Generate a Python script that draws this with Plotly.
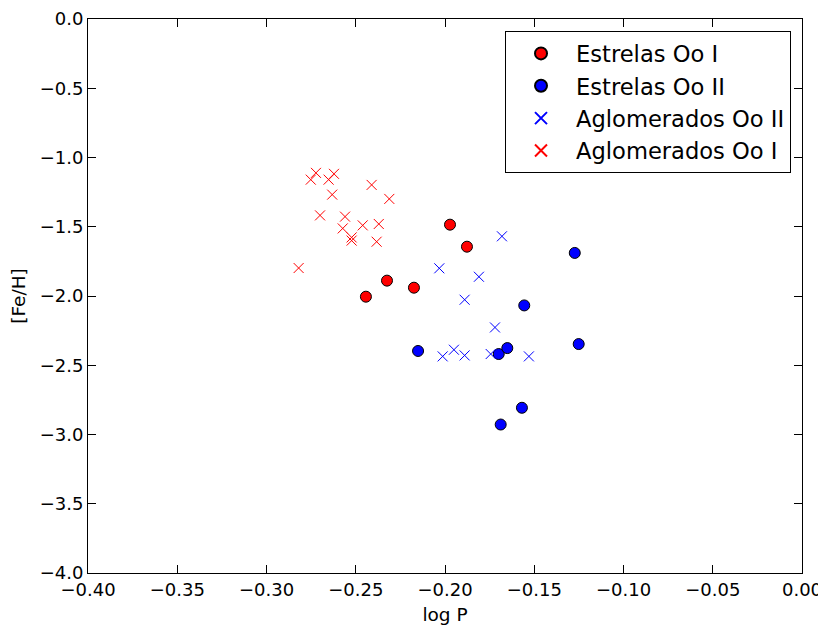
import plotly.graph_objects as go

# Estrelas Oo I (red circles)
ooI_star_logp = [-0.2443, -0.2325, -0.2174, -0.1972, -0.1877]
ooI_star_feh = [-2.005, -1.889, -1.94, -1.485, -1.644]

# Estrelas Oo II (blue circles)
ooII_star_logp = [-0.1273, -0.1556, -0.1251, -0.2151, -0.1699, -0.1651, -0.1569, -0.1688]
ooII_star_feh = [-1.689, -2.068, -2.347, -2.397, -2.419, -2.376, -2.807, -2.928]

# Aglomerados Oo II (blue x)
ooII_gc_logp = [-0.1681, -0.2032, -0.1810, -0.1890, -0.1720, -0.1950, -0.2013, -0.1890, -0.1744, -0.1530]
ooII_gc_feh = [-1.569, -1.800, -1.861, -2.027, -2.227, -2.388, -2.436, -2.429, -2.419, -2.436]

# Aglomerados Oo I (red x)
ooI_gc_logp = [-0.2723, -0.2622, -0.2752, -0.2652, -0.2632, -0.2411, -0.2312, -0.2700,
               -0.2560, -0.2573, -0.2461, -0.2371, -0.2523, -0.2523, -0.2383, -0.2820]
ooI_gc_feh = [-1.111, -1.118, -1.160, -1.160, -1.268, -1.198, -1.299, -1.418,
              -1.427, -1.512, -1.490, -1.480, -1.577, -1.600, -1.608, -1.798]

x_ticks = [-0.40, -0.35, -0.30, -0.25, -0.20, -0.15, -0.10, -0.05, 0.00]
y_ticks = [0.0, -0.5, -1.0, -1.5, -2.0, -2.5, -3.0, -3.5, -4.0]

def fmt(v, d):
    s = f"{abs(v):.{d}f}"
    return ("\u2212" + s) if v < 0 else s

fig = go.Figure()
fig.add_trace(go.Scatter(x=ooI_star_logp, y=ooI_star_feh, mode="markers", name="Estrelas Oo I",
                         marker=dict(symbol="circle", size=11, color="red", line=dict(color="black", width=1))))
fig.add_trace(go.Scatter(x=ooII_star_logp, y=ooII_star_feh, mode="markers", name="Estrelas Oo II",
                         marker=dict(symbol="circle", size=11, color="blue", line=dict(color="black", width=1))))
fig.add_trace(go.Scatter(x=ooII_gc_logp, y=ooII_gc_feh, mode="markers", name="Aglomerados Oo II",
                         marker=dict(symbol="x-thin", size=10, color="blue", line=dict(color="blue", width=1))))
fig.add_trace(go.Scatter(x=ooI_gc_logp, y=ooI_gc_feh, mode="markers", name="Aglomerados Oo I",
                         marker=dict(symbol="x-thin", size=10, color="red", line=dict(color="red", width=1))))

axis_common = dict(showline=True, linecolor="black", linewidth=1, mirror="ticks",
                   ticks="inside", ticklen=8, tickcolor="black", showgrid=False, zeroline=False,
                   automargin=False,
                   tickfont=dict(family="DejaVu Sans", size=18, color="black"))

# page body has an 8px margin, so the figure is shrunk by 8px and margins reduced accordingly
fig.update_layout(
    width=818, height=617,
    margin=dict(l=80, r=24, t=11, b=52),
    plot_bgcolor="white", paper_bgcolor="white",
    font=dict(family="DejaVu Sans", color="black"),
    showlegend=True,
    legend=dict(x=0.9846, y=0.978, xanchor="right", yanchor="top",
                bordercolor="black", borderwidth=1, bgcolor="white",
                font=dict(family="DejaVu Sans", size=22.6, color="black"),
                itemwidth=60, itemsizing="constant", tracegroupgap=0),
    xaxis=dict(range=[-0.40, 0.00], tickvals=x_ticks, ticktext=[fmt(v, 2) for v in x_ticks],
               title=dict(text="log P", font=dict(family="DejaVu Sans", size=18.5)),
               **axis_common),
    yaxis=dict(range=[-4.0, 0.0], tickvals=y_ticks, ticktext=[fmt(v, 1) for v in y_ticks],
               title=dict(text="[Fe/H]", font=dict(family="DejaVu Sans", size=18.5)),
               **axis_common),
)

fig.write_html("out.html")
